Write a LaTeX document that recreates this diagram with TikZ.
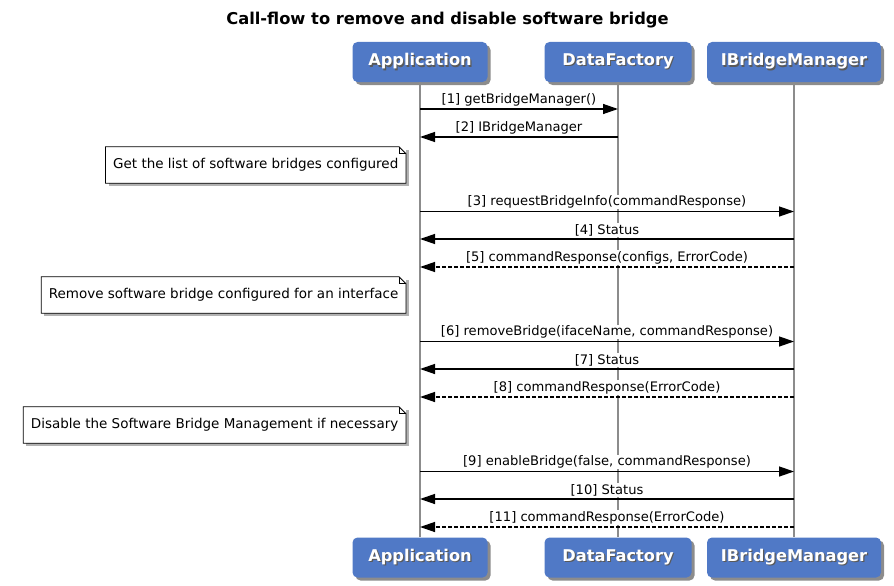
\documentclass[tikz,border=0pt]{standalone}
\usepackage{fontspec}
\setmainfont{DejaVu Sans}
\usepackage{tikz}
\usetikzlibrary{arrows.meta,shadows}

\definecolor{actorblue}{RGB}{80,121,198}
\newcommand{\shadowlabel}[1]{\makebox[0pt][l]{\kern1.2pt\raisebox{-1.2pt}{\color{black!65}#1}}#1}
\newcommand{\notecorner}[1]{%
  \draw[line width=.8pt] (#1.south west) -- (#1.north west) -- ([xshift=-7pt]#1.north east)
    -- ([yshift=-7pt]#1.north east) -- (#1.south east) -- cycle;
  \draw[line width=.8pt] ([xshift=-7pt]#1.north east) |- ([yshift=-7pt]#1.north east);}

\tikzset{
  actor/.style={rectangle, rounded corners=5pt, fill=actorblue, text=white,
    minimum height=40pt, inner xsep=2pt, font=\fontsize{16.2}{19}\selectfont\bfseries,
    drop shadow={shadow xshift=3pt, shadow yshift=-3pt, fill=black, opacity=.45}},
  lifeline/.style={draw=black!45, line width=1.5pt},
  msg/.style={draw=black, line width=1.3pt, -{Triangle[length=15pt,width=10pt]}},
  reply/.style={msg, dash pattern=on 4pt off 2pt},
  msglabel/.style={above, fill=white, inner sep=1pt, yshift=1.5pt,
    font=\fontsize{13.1}{15}\selectfont},
  notebox/.style={rectangle, fill=white, anchor=east, minimum height=36pt,
    inner xsep=7.5pt, font=\fontsize{13.5}{15}\selectfont,
    drop shadow={shadow xshift=3pt, shadow yshift=-3pt, fill=black, opacity=.3}}
}

\begin{document}
\begin{tikzpicture}[x=1pt, y=-1pt]
    \useasboundingbox (0,0) rectangle (894,586);
    \node (title) at (447.5,20) {\fontsize{16.3}{19}\selectfont\bfseries Call-flow to remove and disable software bridge};

    % actors, top and bottom
    \node[actor, minimum width=135pt] (appT) at (420,62) {\shadowlabel{Application}};
    \node[actor, minimum width=147pt] (dfT) at (618,62) {\shadowlabel{DataFactory}};
    \node[actor, minimum width=174pt] (ibmT) at (794,62) {\shadowlabel{IBridgeManager}};
    \node[actor, minimum width=135pt] (appB) at (420,557.5) {\shadowlabel{Application}};
    \node[actor, minimum width=147pt] (dfB) at (618,557.5) {\shadowlabel{DataFactory}};
    \node[actor, minimum width=174pt] (ibmB) at (794,557.5) {\shadowlabel{IBridgeManager}};

    \draw[lifeline] (appT) -- (appB);
    \draw[lifeline] (dfT) -- (dfB);
    \draw[lifeline] (ibmT) -- (ibmB);

    % message rows on the lifelines
    \foreach \i/\y in {1/109,2/137,3/211.5,4/239,5/267,6/341.5,7/369,8/397,9/471.5,10/499,11/527} {
        \coordinate (app\i) at (appT.south |- 0,\y);
        \coordinate (df\i) at (dfT.south |- 0,\y);
        \coordinate (ibm\i) at (ibmT.south |- 0,\y);
    }

    % notes
    \node[notebox] (note1) at (406,165) {Get the list of software bridges configured};
    \notecorner{note1}
    \node[notebox] (note2) at (406,295) {Remove software bridge configured for an interface};
    \notecorner{note2}
    \node[notebox] (note3) at (406,425) {Disable the Software Bridge Management if necessary};
    \notecorner{note3}

    \draw[msg] (app1) -- node[msglabel]{[1] getBridgeManager()} (df1);
    \draw[msg] (df2) -- node[msglabel]{[2] IBridgeManager} (app2);
    \draw[msg] (app3) -- node[msglabel]{[3] requestBridgeInfo(commandResponse)} (ibm3);
    \draw[msg] (ibm4) -- node[msglabel]{[4] Status} (app4);
    \draw[reply] (ibm5) -- node[msglabel]{[5] commandResponse(configs, ErrorCode)} (app5);
    \draw[msg] (app6) -- node[msglabel]{[6] removeBridge(ifaceName, commandResponse)} (ibm6);
    \draw[msg] (ibm7) -- node[msglabel]{[7] Status} (app7);
    \draw[reply] (ibm8) -- node[msglabel]{[8] commandResponse(ErrorCode)} (app8);
    \draw[msg] (app9) -- node[msglabel]{[9] enableBridge(false, commandResponse)} (ibm9);
    \draw[msg] (ibm10) -- node[msglabel]{[10] Status} (app10);
    \draw[reply] (ibm11) -- node[msglabel]{[11] commandResponse(ErrorCode)} (app11);
\end{tikzpicture}
\end{document}
